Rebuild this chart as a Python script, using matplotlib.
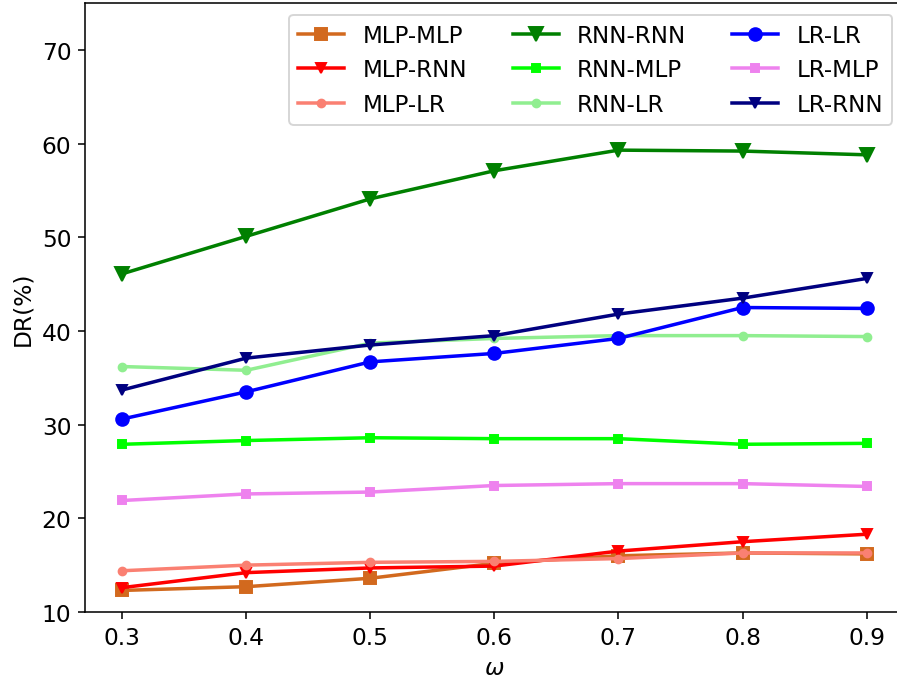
import numpy as np
import matplotlib.pyplot as plt

omega = [0.3, 0.4, 0.5, 0.6, 0.7, 0.8, 0.9]

mlp_mlp = [12.3, 12.7, 13.6, 15.2, 16.0, 16.3, 16.2]
mlp_rnn = [12.6, 14.2, 14.7, 14.9, 16.5, 17.5, 18.3]
mlp_lr = [14.4, 15.0, 15.3, 15.4, 15.7, 16.3, 16.3]
rnn_rnn = [46.1, 50.1, 54.1, 57.1, 59.3, 59.2, 58.8]
rnn_mlp = [27.9, 28.3, 28.6, 28.5, 28.5, 27.9, 28.0]
rnn_lr = [36.2, 35.8, 38.7, 39.2, 39.5, 39.5, 39.4]
lr_lr = [30.6, 33.5, 36.7, 37.6, 39.2, 42.5, 42.4]
lr_mlp = [21.9, 22.6, 22.8, 23.5, 23.7, 23.7, 23.4]
lr_rnn = [33.7, 37.1, 38.5, 39.5, 41.8, 43.5, 45.6]

fig, ax = plt.subplots(figsize=(6.414, 4.864), dpi=140)
fig.subplots_adjust(left=0.0947, right=1.0065, top=0.9941, bottom=0.0999)

lw = 1.8
ax.plot(omega, mlp_mlp, color='chocolate', marker='s', ms=6.5, lw=lw, label='MLP-MLP')
ax.plot(omega, mlp_rnn, color='red', marker='v', ms=5, lw=lw, label='MLP-RNN')
ax.plot(omega, mlp_lr, color='salmon', marker='o', ms=4, lw=lw, label='MLP-LR')
ax.plot(omega, rnn_rnn, color='green', marker='v', ms=7.5, lw=lw, label='RNN-RNN')
ax.plot(omega, rnn_mlp, color='lime', marker='s', ms=4, lw=lw, label='RNN-MLP')
ax.plot(omega, rnn_lr, color='lightgreen', marker='o', ms=4, lw=lw, label='RNN-LR')
ax.plot(omega, lr_lr, color='blue', marker='o', ms=6.5, lw=lw, label='LR-LR')
ax.plot(omega, lr_mlp, color='violet', marker='s', ms=4, lw=lw, label='LR-MLP')
ax.plot(omega, lr_rnn, color='navy', marker='v', ms=5, lw=lw, label='LR-RNN')

ax.set_xlim(0.27, 0.93)
ax.set_ylim(10, 75)
ax.set_xticks(omega)
ax.set_yticks(np.arange(10, 71, 10))
ax.set_xlabel(r'$\omega$', fontsize=12)
ax.set_ylabel('DR(%)', fontsize=12)
ax.tick_params(labelsize=12)
ax.legend(ncol=3, loc='upper right', fontsize=11.8)

fig.savefig('out.png')
